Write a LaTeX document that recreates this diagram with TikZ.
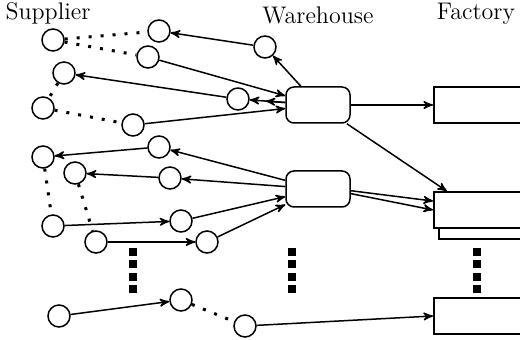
\documentclass[tikz,border=0pt]{standalone}
\usepackage{tikz, amsmath}
\usetikzlibrary{positioning, arrows}

\begin{document}
\begin{tikzpicture}[x=0.5pt, y=-0.5pt, line width=0.75pt, >=stealth',
    site/.style={circle, draw, fill=white, inner sep=0pt, minimum size=11pt},
    depot/.style={draw, fill=white, rounded corners=4pt, minimum width=32pt, minimum height=18pt},
    plant/.style={draw, fill=white, anchor=west, minimum width=50pt, minimum height=18pt},
    link/.style={dash pattern=on 1.5pt off 4.5pt, line width=1.5pt},
    more/.style={dash pattern=on 4pt off 2.2pt, line width=4pt}]
    \useasboundingbox (0,0) rectangle (520,340);
    \clip (0,0) rectangle (520,340);

    \node[font=\large] (sup) at (48,13) {Supplier};
    \node[font=\large] (wh) at (318,15) {Warehouse};
    \node[font=\large] (fac) at (476,14) {Factory};

    \node[site] (s_1) at (53,40) {};
    \node[site] (s_2) at (159,31) {};
    \node[site] (s_3) at (148,57) {};
    \node[site] (s_4) at (64,73) {};
    \node[site] (s_5) at (238,99) {};
    \node[site] (s_6) at (43,108) {};
    \node[site] (s_7) at (133,125) {};
    \node[site] (s_8) at (265,47) {};
    \node[site] (s_9) at (43,157) {};
    \node[site] (s_10) at (159,147) {};
    \node[site] (s_11) at (75,173) {};
    \node[site] (s_12) at (170,178) {};
    \node[site] (s_13) at (53,226) {};
    \node[site] (s_14) at (181,221) {};
    \node[site] (s_15) at (96,242) {};
    \node[site] (s_16) at (207,242) {};
    \node[site] (s_17) at (59,316) {};
    \node[site] (s_18) at (181,300) {};
    \node[site] (s_19) at (245,326) {};

    \node[depot] (w_1) at (318,105) {};
    \node[depot] (w_2) at (318,189) {};

    \node[plant] (f_1) at (433,105) {};
    \node[plant] (f_2b) at (438,221) {};
    \node[plant] (f_2) at (433,210) {};
    \node[plant] (f_3) at (433,316) {};

    % links between suppliers
    \path[link]
        (s_1)   edge (s_2)
                edge (s_3)
        (s_4)   edge (s_6)
        (s_6)   edge (s_7)
        (s_9)   edge (s_13)
        (s_11)  edge (s_15)
        (s_18)  edge (s_19);

    \path[->]
        (w_1)   edge (s_8)
                edge (s_5)
                edge [shorten >=8pt] (s_5)
                edge (f_1)
        (s_8)   edge (s_2)
        (s_5)   edge (s_4)
        (s_3)   edge (w_1)
        (s_7)   edge (w_1)
        (w_2)   edge (s_10)
                edge (s_12)
        (s_10)  edge (s_9)
        (s_12)  edge (s_11)
        (s_13)  edge (s_14)
        (s_14)  edge (w_2)
        (s_15)  edge (s_16)
        (s_16)  edge (w_2)
        (s_17)  edge (s_18)
        (s_19)  edge (f_3.west)
        (w_1.-33) edge ([xshift=7pt]f_2.north west)
        (w_2.-3)  edge (f_2.170)
        (w_2.-8)  edge (f_2.west);

    % more of the same below
    \foreach \x in {133,292,477}
        \draw[more] (\x,248) -- (\x,294);
\end{tikzpicture}
\end{document}
